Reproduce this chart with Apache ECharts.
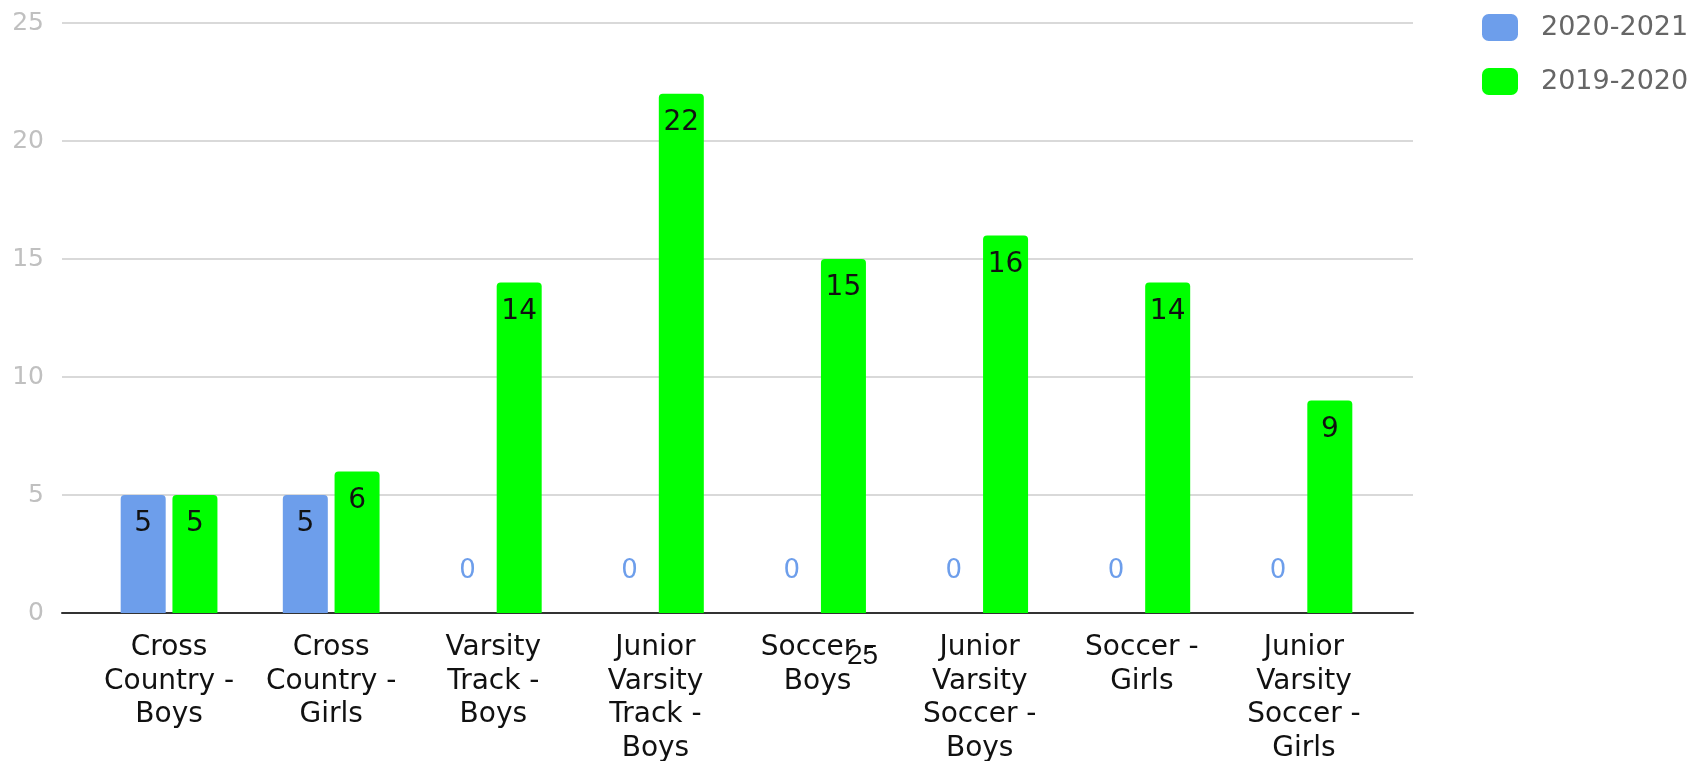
<!DOCTYPE html>
<html>
<head>
<meta charset="utf-8">
<script src="https://cdn.jsdelivr.net/npm/echarts@6/dist/echarts.min.js"></script>
<style>
  html, body { margin: 0; padding: 0; background: #fff; }
  #chart { width: 1696px; height: 761px; }
</style>
</head>
<body>
<div id="chart"></div>
<script>
const categories = [
  'Cross\nCountry -\nBoys',
  'Cross\nCountry -\nGirls',
  'Varsity\nTrack -\nBoys',
  'Junior\nVarsity\nTrack -\nBoys',
  'Soccer -\nBoys',
  'Junior\nVarsity\nSoccer -\nBoys',
  'Soccer -\nGirls',
  'Junior\nVarsity\nSoccer -\nGirls'
];
const season2021 = [5, 5, 0, 0, 0, 0, 0, 0];
const season2020 = [5, 6, 14, 22, 15, 16, 14, 9];
const seriesNames = ['2020-2021', '2019-2020'];
const colors = ['#6d9eeb', '#00ff00'];

const font = 'DejaVu Sans';

// zero values get their label above the axis, in the series colour
const withZeroLabels = (values, color) =>
  values.map((v) =>
    v === 0
      ? { value: v, label: { position: 'top', distance: 29, color: color, fontSize: 26 } }
      : v
  );

const chart = echarts.init(document.getElementById('chart'));

const barSeries = (name, values, color) => ({
  name: name,
  type: 'bar',
  xAxisIndex: 1,
  yAxisIndex: 1,
  barWidth: 45,
  barGap: '15%',
  data: withZeroLabels(values, color),
  itemStyle: { color: color, borderRadius: [4, 4, 0, 0] },
  label: {
    show: true,
    position: 'insideTop',
    distance: 15,
    color: '#111',
    fontFamily: font,
    fontSize: 28
  }
});

chart.setOption({
  animation: false,
  color: colors,
  legend: {
    orient: 'vertical',
    left: 1477,
    top: 9,
    itemWidth: 36,
    itemHeight: 27,
    itemGap: 27,
    icon: 'roundRect',
    textStyle: {
      color: '#666',
      fontFamily: font,
      fontSize: 27,
      padding: [0, 0, 0, 18]
    },
    data: seriesNames
  },
  // two grids: the wide one carries gridlines + axis line, the narrower one the bars
  grid: [
    { left: 62, right: 283, top: 23, bottom: 148, outerBoundsMode: 'none' },
    { left: 88, right: 311, top: 23, bottom: 148, outerBoundsMode: 'none' }
  ],
  xAxis: [
    {
      gridIndex: 0,
      type: 'value',
      min: 0,
      max: 1,
      axisLine: { show: true, lineStyle: { color: '#333', width: 2 } },
      axisTick: { show: false },
      axisLabel: { show: false },
      splitLine: { show: false }
    },
    {
      gridIndex: 1,
      type: 'category',
      data: categories,
      axisLine: { show: false },
      axisTick: { show: false },
      axisLabel: {
        interval: 0,
        margin: 18,
        color: '#111',
        fontFamily: font,
        fontSize: 28,
        lineHeight: 33.5
      }
    }
  ],
  yAxis: [
    {
      gridIndex: 0,
      type: 'value',
      min: 0,
      max: 25,
      interval: 5,
      axisLine: { show: false },
      axisTick: { show: false },
      axisLabel: {
        margin: 18,
        color: '#c0c0c0',
        fontFamily: font,
        fontSize: 25
      },
      splitLine: { lineStyle: { color: '#cccccc', width: 1.5 } }
    },
    {
      gridIndex: 1,
      type: 'value',
      min: 0,
      max: 25,
      show: false
    }
  ],
  graphic: [
    {
      type: 'text',
      left: 847,
      top: 642,
      style: {
        text: '25',
        fill: '#111',
        font: '28px "Liberation Sans"'
      }
    }
  ],
  series: [
    barSeries(seriesNames[0], season2021, colors[0]),
    barSeries(seriesNames[1], season2020, colors[1])
  ]
});
</script>
</body>
</html>
